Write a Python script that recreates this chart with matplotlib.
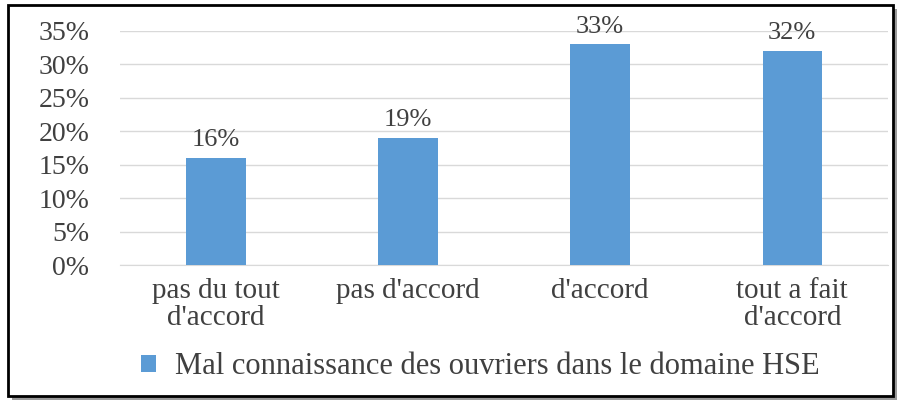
import matplotlib.pyplot as plt
from matplotlib.patches import Rectangle
from matplotlib.ticker import PercentFormatter

# data
categories = ["pas du tout\nd'accord", "pas d'accord", "d'accord", "tout a fait\nd'accord"]
values = [16, 19, 33, 32]
series_name = "Mal connaissance des ouvriers dans le domaine HSE"

plt.rcParams['font.family'] = ['Liberation Serif', 'DejaVu Serif']
txt = '#404040'

fig = plt.figure(figsize=(9.06, 4.01), dpi=100)
ax = fig.add_axes([0.1325, 0.339, 0.848, 0.584])

x = range(len(categories))
bars = ax.bar(x, values, width=0.31, color='#5B9BD5', label=series_name, zorder=3)
for b, v in zip(bars, values):
    ax.text(b.get_x() + b.get_width() / 2, v + 1.0, f"{v}%", ha='center', va='bottom',
            fontsize=19, color=txt)

ax.set_ylim(0, 35)
ax.set_xlim(-0.5, len(categories) - 0.5)
ax.set_yticks(range(0, 36, 5))
ax.yaxis.set_major_formatter(PercentFormatter(decimals=0))
ax.set_xticks(list(x))
ax.set_xticklabels(categories, fontsize=21, color=txt, linespacing=1.05)
ax.tick_params(axis='y', labelsize=20, labelcolor=txt, length=0, pad=22)
ax.tick_params(axis='x', length=0, pad=9)
ax.grid(axis='y', color='#d9d9d9', linewidth=1, zorder=0)
for s in ['top', 'right', 'left']:
    ax.spines[s].set_visible(False)
ax.spines['bottom'].set_color('#d9d9d9')

fig.legend(loc='center', bbox_to_anchor=(0.53, 0.085), frameon=False, fontsize=22,
           handlelength=0.5, handleheight=0.5, handletextpad=0.6, labelcolor=txt)

# border with shadow
W, H = 906, 401
fig.patches.append(Rectangle((12 / W, 1 - 400 / H), 885 / W, 391 / H, transform=fig.transFigure,
                             facecolor='#9a9a9a', edgecolor='none', zorder=-2))
fig.patches.append(Rectangle((8 / W, 1 - 396 / H), 885 / W, 391 / H, transform=fig.transFigure,
                             facecolor='white', edgecolor='black', linewidth=2, zorder=-1))

fig.savefig('out.png', dpi=100)
